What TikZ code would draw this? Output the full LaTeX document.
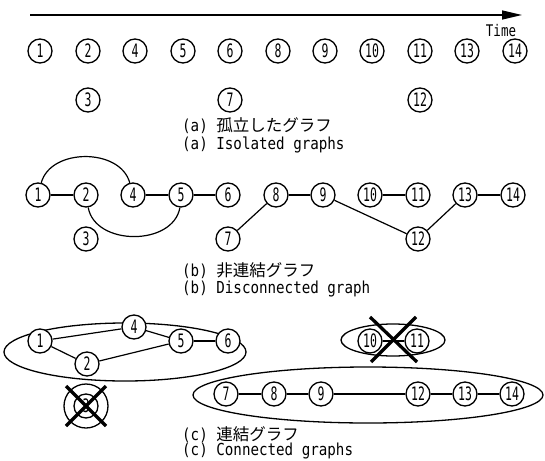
\documentclass[tikz,border=0pt]{standalone}
\usepackage{fontspec}
\usetikzlibrary{arrows.meta}
\newfontfamily\jpfont{Noto Sans CJK JP}
\newfontfamily\capfont[FakeStretch=0.86]{DejaVu Sans Mono}
\newfontfamily\numfont[FakeStretch=0.62]{DejaVu Sans Mono}
\newfontfamily\timefont[FakeStretch=0.78]{DejaVu Sans Mono}
\newcommand{\capjp}[2]{{\capfont #1 }{\jpfont #2}}
\begin{document}
\begin{tikzpicture}[x=1pt,y=-1pt,
  vtx/.style={circle, draw, line width=1.3pt, minimum size=24pt, inner sep=0pt,
    fill=white, font=\numfont\fontsize{18.5}{18.5}\selectfont},
  edge/.style={line width=1.2pt},
  group/.style={line width=1.3pt},
  cross/.style={line width=3.3pt},
  caption/.style={anchor=west, inner sep=0pt, font=\fontsize{16.5}{16.5}\selectfont}]
\useasboundingbox (0,0) rectangle (545,460);

% time axis
\coordinate (t0) at (30,15);
\coordinate (t1) at (522,15);
\draw[line width=1.4pt, -{Triangle[length=20pt,width=9pt]}] (t0) -- (t1);
\node[inner sep=0pt, font=\timefont\fontsize{16}{16}\selectfont] (time) at (501,31) {Time};

% (a) isolated graphs
\foreach \n/\x in {1/40,2/88,4/135,5/183,6/230,8/278,9/325,10/372,11/420,13/467,14/515}
  \node[vtx] (a\n) at (\x,51) {\n};
\foreach \n/\x in {3/88,7/230,12/420}
  \node[vtx] (a\n) at (\x,100) {\n};
\node[caption] (capa1) at (182,126) {\capjp{(a)}{孤立したグラフ}};
\node[caption] (capa2) at (182,145) {\capfont (a) Isolated graphs};

% (b) disconnected graph
\foreach \n/\x in {1/38,2/86,4/133,5/181,6/228,8/276,9/323,10/370,11/418,13/465,14/513}
  \node[vtx] (b\n) at (\x,195) {\n};
\foreach \n/\x in {3/86,7/228,12/418}
  \node[vtx] (b\n) at (\x,239) {\n};
\draw[edge] (b1) -- (b2);
\draw[edge] (b4) -- (b5);
\draw[edge] (b5) -- (b6);
\draw[edge] (b1.75) to[out=75,in=105,looseness=1.05] (b4.105);
\draw[edge] (b2.-80) to[out=-80,in=-100,looseness=1.1] (b5.-95);
\draw[edge] (b8) -- (b9);
\draw[edge] (b8) -- (b7);
\draw[edge] (b9) -- (b12);
\draw[edge] (b10) -- (b11);
\draw[edge] (b13) -- (b14);
\draw[edge] (b13) -- (b12);
\node[caption] (capb1) at (182,271) {\capjp{(b)}{非連結グラフ}};
\node[caption] (capb2) at (182,289) {\capfont (b) Disconnected graph};

% (c) connected graphs
\draw[group] (125,352) ellipse (121 and 29);
\draw[group] (393,340) ellipse (52 and 16);
\draw[group] (368,395) ellipse (175 and 28);

\node[vtx] (c1) at (40,341) {1};
\node[vtx] (c4) at (134,327) {4};
\node[vtx] (c5) at (181,341) {5};
\node[vtx] (c6) at (228,341) {6};
\node[vtx] (c2) at (87,364) {2};
\draw[edge] (c1) -- (c4);
\draw[edge] (c1) -- (c2);
\draw[edge] (c2) -- (c5);
\draw[edge] (c4) -- (c5);
\draw[edge] (c5) -- (c6);

% removed vertex 3
\node[vtx] (c3) at (86,406) {3};
\draw[group] (c3.center) circle (22);
\draw[cross] (66,386) -- (106,426);
\draw[cross] (106,386) -- (66,426);

% removed component 10-11
\node[vtx] (c10) at (370,341) {10};
\node[vtx] (c11) at (417,341) {11};
\draw[edge] (c10) -- (c11);
\draw[cross] (370,317) -- (417,362);
\draw[cross] (416,317) -- (371,362);

\foreach \n/\x in {7/226,8/274,9/321,12/418,13/465,14/512}
  \node[vtx] (c\n) at (\x,394) {\n};
\draw[edge] (c7) -- (c8);
\draw[edge] (c8) -- (c9);
\draw[edge] (c9) -- (c12);
\draw[edge] (c12) -- (c13);
\draw[edge] (c13) -- (c14);

\node[caption] (capc1) at (182,435) {\capjp{(c)}{連結グラフ}};
\node[caption] (capc2) at (182,451) {\capfont (c) Connected graphs};
\end{tikzpicture}
\end{document}
